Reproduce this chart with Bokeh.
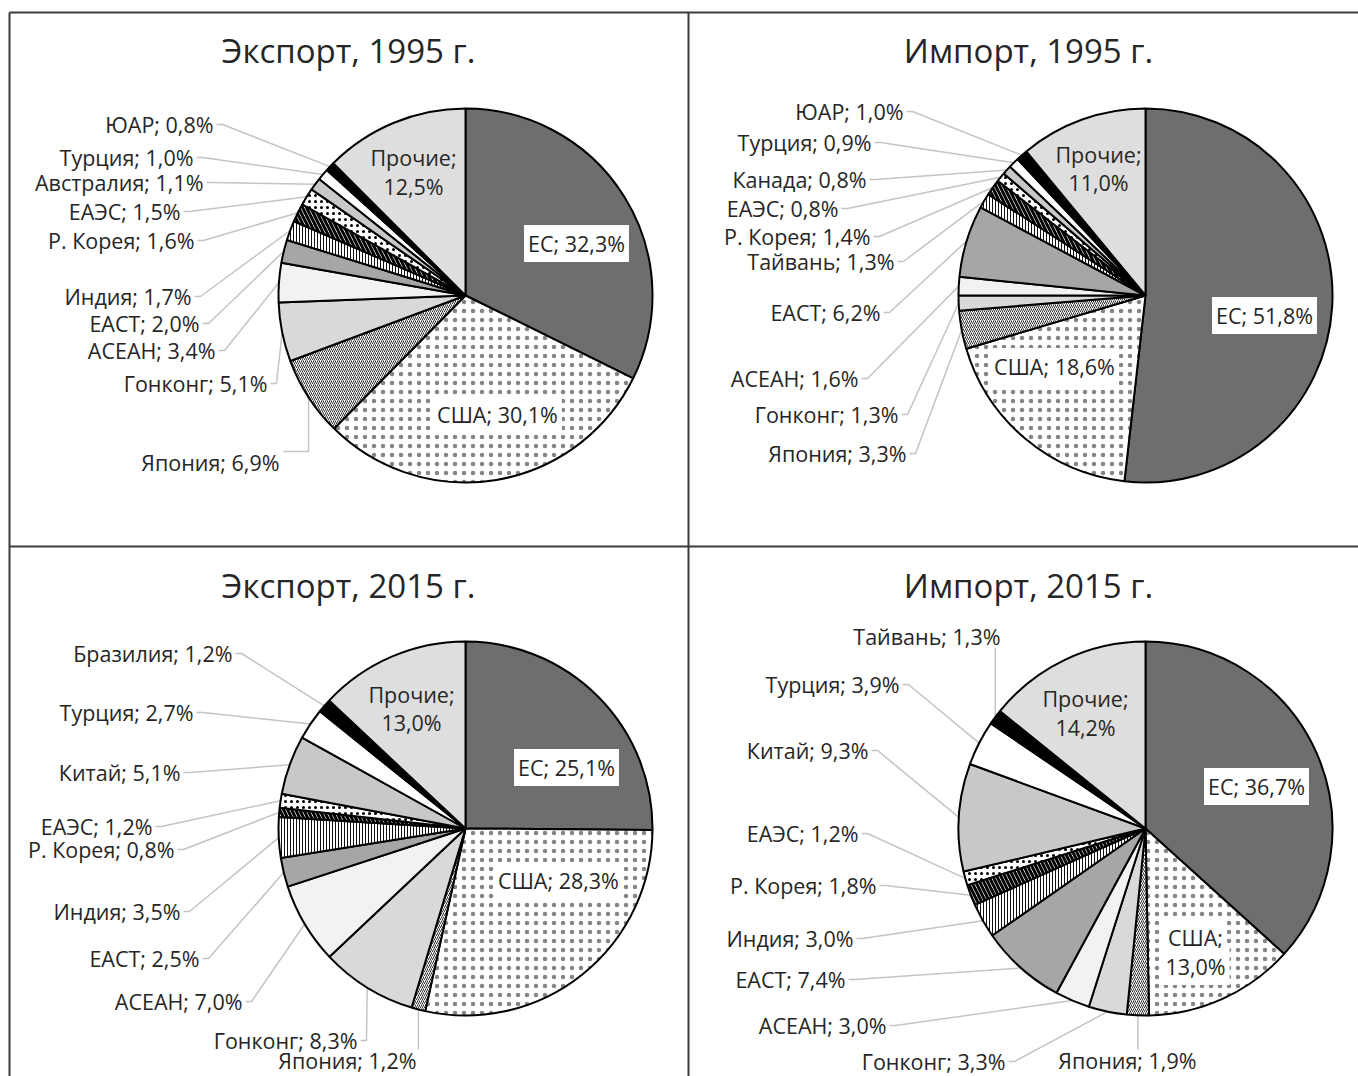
import math
from bokeh.plotting import figure
from bokeh.models import Range1d, Label, ColumnDataSource
from bokeh.embed import file_html
from bokeh.resources import INLINE

# ---------------- data ----------------
titles = ["Экспорт, 1995 г.", "Импорт, 1995 г.", "Экспорт, 2015 г.", "Импорт, 2015 г."]

regions_exp_1995 = ["ЕС", "США", "Япония", "Гонконг", "АСЕАН", "ЕАСТ", "Индия", "Р. Корея",
                    "ЕАЭС", "Австралия", "Турция", "ЮАР", "Прочие"]
values_exp_1995 = [32.3, 30.1, 6.9, 5.1, 3.4, 2.0, 1.7, 1.6, 1.5, 1.1, 1.0, 0.8, 12.5]

regions_imp_1995 = ["ЕС", "США", "Япония", "Гонконг", "АСЕАН", "ЕАСТ", "Тайвань", "Р. Корея",
                    "ЕАЭС", "Канада", "Турция", "ЮАР", "Прочие"]
values_imp_1995 = [51.8, 18.6, 3.3, 1.3, 1.6, 6.2, 1.3, 1.4, 0.8, 0.8, 0.9, 1.0, 11.0]

regions_exp_2015 = ["ЕС", "США", "Япония", "Гонконг", "АСЕАН", "ЕАСТ", "Индия", "Р. Корея",
                    "ЕАЭС", "Китай", "Турция", "Бразилия", "Прочие"]
values_exp_2015 = [25.1, 28.3, 1.2, 8.3, 7.0, 2.5, 3.5, 0.8, 1.2, 5.1, 2.7, 1.2, 13.0]

regions_imp_2015 = ["ЕС", "США", "Япония", "Гонконг", "АСЕАН", "ЕАСТ", "Индия", "Р. Корея",
                    "ЕАЭС", "Китай", "Турция", "Тайвань", "Прочие"]
values_imp_2015 = [36.7, 13.0, 1.9, 3.3, 3.0, 7.4, 3.0, 1.8, 1.2, 9.3, 3.9, 1.3, 14.2]

# ---------------- styles (by slice position) ----------------
fill_colors = ["#6E6E6E", "#FFFFFF", "#FFFFFF", "#D9D9D9", "#F2F2F2", "#A6A6A6", "#FFFFFF",
               "#FFFFFF", "#FFFFFF", "#C8C8C8", "#FFFFFF", "#000000", "#DEDEDE"]
hatch_patterns = [" ", "dot", "right_diagonal_line", " ", " ", " ", "vertical_line",
                  "left_diagonal_line", "dot", " ", " ", " ", " "]
hatch_scales = [1, 9, 4, 1, 1, 1, 3, 8, 6, 1, 1, 1, 1]
hatch_weights = [1, 1.1, 1, 1, 1, 1, 1, 3, 3, 1, 1, 1, 1]
hatch_colors = ["black", "#858585", "#333333", "black", "black", "black", "#111111",
                "black", "black", "black", "black", "black", "black"]

FONT = "Open Sans"
TXT = "#262626"
LEADER = "#C4C4C4"
LBL_SIZE = "21.5px"
TITLE_SIZE = "33px"
R = 187

# ---------------- layout (page pixel coords) ----------------
panels = [
    dict(cx=465, cy=295, tx=348, ty=50,
         regions=regions_exp_1995, values=values_exp_1995,
         labels={2: (279, 462, "down"), 3: (267, 383, "side"), 4: (215, 350, "side"),
                 5: (199, 323, "side"), 6: (191, 296, "side"), 7: (194, 240, "side"),
                 8: (180, 211, "side"), 9: (203, 182, "side"), 10: (193, 157, "side"),
                 11: (213, 124, "side")},
         inner={0: [(576, 243)], 1: [(497, 414)], 12: [(413, 157), (413, 186)]}),
    dict(cx=1145, cy=295, tx=1028, ty=50,
         regions=regions_imp_1995, values=values_imp_1995,
         labels={2: (906, 453, "side"), 3: (898, 414, "side"), 4: (858, 378, "side"),
                 5: (880, 312, "side"), 6: (894, 261, "side"), 7: (870, 236, "side"),
                 8: (838, 208, "side"), 9: (866, 179, "side"), 10: (871, 142, "side"),
                 11: (903, 111, "side")},
         inner={0: [(1264, 315)], 1: [(1054, 366)], 12: [(1098, 154), (1098, 182)]}),
    dict(cx=465, cy=828, tx=348, ty=585,
         regions=regions_exp_2015, values=values_exp_2015,
         labels={2: (416, 1060, "down"), 3: (357, 1040, "side"), 4: (242, 1001, "side"),
                 5: (199, 958, "side"), 6: (180, 911, "side"), 7: (174, 849, "side"),
                 8: (152, 826, "side"), 9: (180, 772, "side"), 10: (193, 712, "side"),
                 11: (232, 653, "side")},
         inner={0: [(566, 767)], 1: [(558, 880)], 12: [(411, 694), (411, 722)]}),
    dict(cx=1145, cy=828, tx=1028, ty=585,
         regions=regions_imp_2015, values=values_imp_2015,
         labels={2: (1196, 1060, "down"), 3: (1005, 1061, "side"), 4: (886, 1025, "side"),
                 5: (845, 979, "side"), 6: (853, 938, "side"), 7: (876, 885, "side"),
                 8: (858, 833, "side"), 9: (868, 750, "side"), 10: (899, 684, "side"),
                 11: (1000, 636, "up")},
         inner={0: [(1256, 786)], 1: [(1195, 937), (1195, 966)], 12: [(1085, 698), (1085, 727)]}),
]

W, H = 1358, 1076
p = figure(width=W, height=H, output_backend="svg", toolbar_location=None,
           x_range=Range1d(0, W), y_range=Range1d(-H, 0),
           min_border=0, x_axis_location=None, y_axis_location=None)
p.grid.visible = False
p.outline_line_color = None
p.background_fill_color = "white"


def pct(v):
    return f"{v:.1f}%".replace(".", ",")


def fmt(name, v):
    return f"{name}; {pct(v)}"


# frame lines of the 2x2 grid
p.segment(x0=[9, 9, 688, 9], y0=[-12, -12, -12, -546],
          x1=[W, 9, 688, W], y1=[-12, -H, -H, -546],
          line_color="#3A3A3A", line_width=2)

for k, pn in enumerate(panels):
    cx, cy = pn["cx"], pn["cy"]
    vals = pn["values"]
    tot = sum(vals)
    starts, ends, mids = [], [], []
    c = 0.0
    for v in vals:
        t0 = 2 * math.pi * c / tot
        t1 = 2 * math.pi * (c + v) / tot
        starts.append(math.pi / 2 - t0)
        ends.append(math.pi / 2 - t1)
        mids.append((t0 + t1) / 2)
        c += v

    # leader lines
    xs, ys = [], []
    for i, (xr, ly, mode) in pn["labels"].items():
        th = mids[i]
        ex = cx + R * math.sin(th)
        ey = -cy + R * math.cos(th)
        if mode == "side":
            px = [xr + 3, xr + 9, ex]
            py = [-ly, -ly, ey]
        elif mode == "down":
            py_l = -(ly - 11)
            if ex > xr + 4:
                px = [ex, ex, xr + 4]
                py = [ey, py_l, py_l]
            else:
                px = [ex, ex]
                py = [ey, py_l]
        else:  # up
            py_l = -(ly + 11)
            px = [ex, ex]
            py = [ey, py_l]
        xs.append(px)
        ys.append(py)
    p.multi_line(xs, ys, line_color=LEADER, line_width=1.5)

    src = ColumnDataSource(dict(
        start=starts, end=ends, fill=fill_colors, hatch=hatch_patterns,
        hscale=hatch_scales, hweight=hatch_weights, hcolor=hatch_colors))
    p.wedge(x=cx, y=-cy, radius=R, start_angle="start", end_angle="end",
            direction="clock", source=src, fill_color="fill",
            hatch_pattern="hatch", hatch_scale="hscale", hatch_weight="hweight",
            hatch_color="hcolor", line_color="black", line_width=2)

    # title
    p.add_layout(Label(x=pn["tx"], y=-pn["ty"], text=titles[k], text_align="center",
                       text_baseline="middle", text_font=FONT, text_font_size=TITLE_SIZE,
                       text_color=TXT))

    # outside labels
    for i, (xr, ly, mode) in pn["labels"].items():
        p.add_layout(Label(x=xr, y=-ly, text=fmt(pn["regions"][i], vals[i]),
                           text_align="right", text_baseline="middle", text_font=FONT,
                           text_font_size=LBL_SIZE, text_color=TXT))

    # inside labels
    for i, pos in pn["inner"].items():
        if len(pos) == 1:
            lines = [fmt(pn["regions"][i], vals[i])]
        else:
            lines = [pn["regions"][i] + ";", pct(vals[i])]
        for (lx, ly), t in zip(pos, lines):
            kw = {}
            if i == 0 or i == 1:
                kw = dict(background_fill_color="white", padding=4)
            p.add_layout(Label(x=lx, y=-ly, text=t, text_align="center",
                               text_baseline="middle", text_font=FONT,
                               text_font_size=LBL_SIZE, text_color=TXT, **kw))

open("out.html", "w").write(file_html(p, INLINE))
